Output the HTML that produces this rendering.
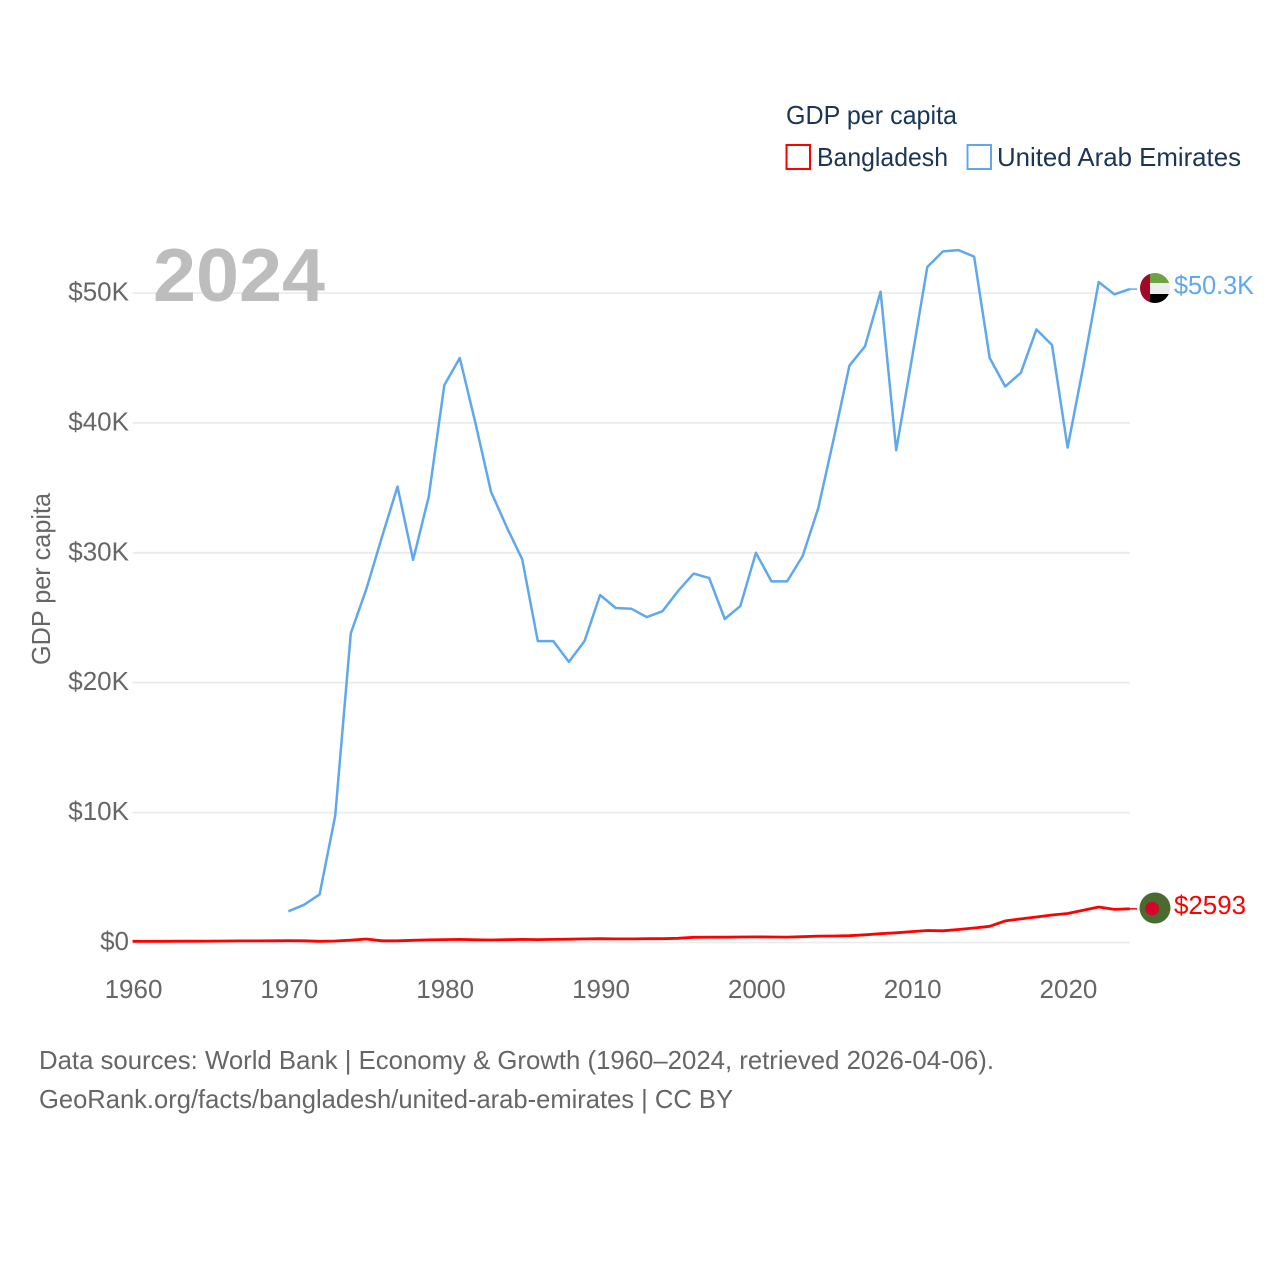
<!DOCTYPE html>
<html lang="en">
<head>
<meta charset="utf-8">
<title>GDP per capita: Bangladesh and United Arab Emirates</title>
<style>
html,body{margin:0;padding:0;background:#fff;}
svg{display:block;font-family:"Liberation Sans",sans-serif;}
</style>
</head>
<body>
<svg id="chart" xmlns="http://www.w3.org/2000/svg" width="1280" height="1280" viewBox="0 0 1280 1280">
  <defs>
    <clipPath id="uae-clip"><circle cx="1155" cy="288" r="15"></circle></clipPath>
  </defs>
  <rect x="0" y="0" width="1280" height="1280" fill="#ffffff"></rect>
  <g id="grid"></g>
  <g id="yticks"></g>
  <g id="xticks"></g>
  <text transform="translate(50,579) rotate(-90)" text-anchor="middle" font-size="26" fill="#666666" textLength="172" lengthAdjust="spacingAndGlyphs">GDP per capita</text>
  <text x="153" y="301" font-size="75" font-weight="700" fill="#bdbdbd" textLength="172" lengthAdjust="spacingAndGlyphs">2024</text>
  <g id="series"></g>

  <g>
    <text x="786" y="124" font-size="26" fill="#1a3555" textLength="171" lengthAdjust="spacingAndGlyphs">GDP per capita</text>
    <rect x="786.5" y="145" width="23.5" height="24" fill="none" stroke="#ff0000" stroke-width="2"></rect>
    <text x="817" y="166" font-size="26" fill="#1a3555" textLength="131" lengthAdjust="spacingAndGlyphs">Bangladesh</text>
    <rect x="967.5" y="145" width="23.5" height="24" fill="none" stroke="#5fa8ee" stroke-width="2"></rect>
    <text x="997" y="166" font-size="26" fill="#1a3555" textLength="244" lengthAdjust="spacingAndGlyphs">United Arab Emirates</text>
  </g>

  <g clip-path="url(#uae-clip)">
    <rect x="1140" y="273" width="30" height="10" fill="#6da342"></rect>
    <rect x="1140" y="283" width="30" height="11" fill="#eeeeee"></rect>
    <rect x="1140" y="294" width="30" height="10" fill="#000000"></rect>
    <rect x="1140" y="273" width="10" height="31" fill="#a10a26"></rect>
  </g>
  <g>
    <circle cx="1155" cy="908" r="15.5" fill="#4a6b2f"></circle>
    <circle cx="1152" cy="908.5" r="6.8" fill="#d9002a"></circle>
  </g>
  <text x="1174" y="294" font-size="26" fill="#5fa8ee" textLength="80" lengthAdjust="spacingAndGlyphs">$50.3K</text>
  <text x="1174" y="914" font-size="26" fill="#ff0000" textLength="72" lengthAdjust="spacingAndGlyphs">$2593</text>

  <text x="39" y="1069" font-size="26" fill="#666666" textLength="955" lengthAdjust="spacingAndGlyphs">Data sources: World Bank | Economy &amp; Growth (1960–2024, retrieved 2026-04-06).</text>
  <text x="39" y="1108" font-size="26" fill="#666666" textLength="694" lengthAdjust="spacingAndGlyphs">GeoRank.org/facts/bangladesh/united-arab-emirates | CC BY</text>
</svg>
<script>
const yTickValues = [0, 10, 20, 30, 40, 50];
const yTickLabels = ["$0", "$10K", "$20K", "$30K", "$40K", "$50K"];
const xTickYears = [1960, 1970, 1980, 1990, 2000, 2010, 2020];
const xTickLabels = ["1960", "1970", "1980", "1990", "2000", "2010", "2020"];
const bangladeshStartYear = 1960;
const bangladeshValues = [0.089, 0.092, 0.095, 0.098, 0.100, 0.106, 0.115, 0.124, 0.124, 0.132,
  0.135, 0.128, 0.095, 0.114, 0.178, 0.272, 0.134, 0.128, 0.172, 0.198,
  0.220, 0.240, 0.205, 0.190, 0.215, 0.240, 0.220, 0.240, 0.255, 0.275,
  0.290, 0.275, 0.280, 0.290, 0.290, 0.320, 0.400, 0.405, 0.410, 0.420,
  0.430, 0.420, 0.415, 0.450, 0.490, 0.500, 0.520, 0.590, 0.680, 0.750,
  0.840, 0.920, 0.900, 1.000, 1.120, 1.250, 1.660, 1.820, 1.960, 2.120,
  2.230, 2.490, 2.730, 2.550, 2.593];
const uaeStartYear = 1970;
const uaeValues = [2.4, 2.9, 3.7, 9.75, 23.8, 27.2, 31.2, 35.1, 29.45, 34.3,
  42.9, 45.0, 40.0, 34.7, 32.0, 29.5, 23.2, 23.2, 21.6, 23.2,
  26.75, 25.75, 25.7, 25.05, 25.5, 27.05, 28.4, 28.05, 24.9, 25.9,
  30.0, 27.8, 27.8, 29.75, 33.45, 38.8, 44.4, 45.9, 50.1, 37.9,
  44.9, 52.0, 53.2, 53.3, 52.8, 45.0, 42.8, 43.85, 47.2, 46.0,
  38.1, 44.3, 50.85, 49.9, 50.3];

const SVG_NS = "http://www.w3.org/2000/svg";
function xScale(year) { return 132.6 + (year - 1960) * 15.583; }
function yScale(k) { return 942.5 - k * 12.99; }
function linePath(startYear, values) {
  return values.map(function (v, i) {
    return (i ? "L" : "M") + xScale(startYear + i).toFixed(1) + " " + yScale(v).toFixed(1);
  }).join(" ");
}
const gridGroup = document.getElementById("grid");
const yGroup = document.getElementById("yticks");
const xGroup = document.getElementById("xticks");
const seriesGroup = document.getElementById("series");

yTickValues.forEach(function (v, i) {
  const line = document.createElementNS(SVG_NS, "line");
  
  
  line.setAttribute("x1", xScale(1960));
  line.setAttribute("x2", xScale(2024));
  line.setAttribute("y1", yScale(v));
  line.setAttribute("y2", yScale(v));
  line.setAttribute("stroke", "#ececec");
  line.setAttribute("stroke-width", "1.8");
  gridGroup.appendChild(line);

  const label = document.createElementNS(SVG_NS, "text");
  
  
  label.setAttribute("x", 129);
  label.setAttribute("y", yScale(v) + 7.5);
  label.setAttribute("text-anchor", "end");
  label.setAttribute("font-size", "26");
  label.setAttribute("fill", "#666666");
  label.textContent = yTickLabels[i];
  yGroup.appendChild(label);
});

xTickYears.forEach(function (year, i) {
  const label = document.createElementNS(SVG_NS, "text");
  
  
  label.setAttribute("x", xScale(year) + 0.9);
  label.setAttribute("y", 998);
  label.setAttribute("text-anchor", "middle");
  label.setAttribute("font-size", "26");
  label.setAttribute("fill", "#666666");
  label.textContent = xTickLabels[i];
  xGroup.appendChild(label);
});

const uaeLine = document.createElementNS(SVG_NS, "path");


uaeLine.setAttribute("d", linePath(uaeStartYear, uaeValues));
uaeLine.setAttribute("fill", "none");
uaeLine.setAttribute("stroke", "#5fa8ee");
uaeLine.setAttribute("stroke-width", "2.5");
uaeLine.setAttribute("stroke-linejoin", "round");
seriesGroup.appendChild(uaeLine);

const bangladeshLine = document.createElementNS(SVG_NS, "path");


bangladeshLine.setAttribute("d", linePath(bangladeshStartYear, bangladeshValues));
bangladeshLine.setAttribute("fill", "none");
bangladeshLine.setAttribute("stroke", "#ff0000");
bangladeshLine.setAttribute("stroke-width", "2.8");
bangladeshLine.setAttribute("stroke-linejoin", "round");
seriesGroup.appendChild(bangladeshLine);

const uaeConnector = document.createElementNS(SVG_NS, "line");


uaeConnector.setAttribute("x1", xScale(2024));
uaeConnector.setAttribute("x2", 1137);
uaeConnector.setAttribute("y1", yScale(uaeValues[uaeValues.length - 1]));
uaeConnector.setAttribute("y2", yScale(uaeValues[uaeValues.length - 1]));
uaeConnector.setAttribute("stroke", "#5fa8ee");
uaeConnector.setAttribute("stroke-width", "1.5");
seriesGroup.appendChild(uaeConnector);

const bangladeshConnector = document.createElementNS(SVG_NS, "line");


bangladeshConnector.setAttribute("x1", xScale(2024));
bangladeshConnector.setAttribute("x2", 1137);
bangladeshConnector.setAttribute("y1", yScale(bangladeshValues[bangladeshValues.length - 1]));
bangladeshConnector.setAttribute("y2", yScale(bangladeshValues[bangladeshValues.length - 1]));
bangladeshConnector.setAttribute("stroke", "#ff0000");
bangladeshConnector.setAttribute("stroke-width", "1.5");
seriesGroup.appendChild(bangladeshConnector);
</script>
</body>
</html>
